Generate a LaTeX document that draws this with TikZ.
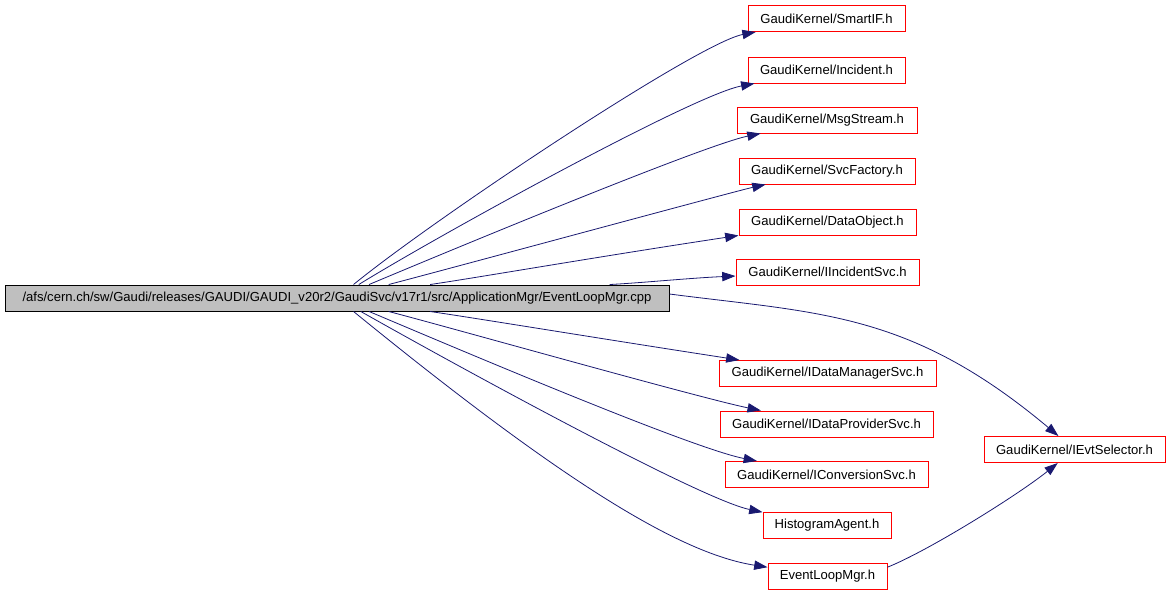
\documentclass[tikz,border=0pt]{standalone}
\usepackage{fontspec}
\setmainfont{Liberation Sans}
\usetikzlibrary{arrows.meta}
\definecolor{edgeblue}{HTML}{191970}
\definecolor{mainfill}{HTML}{BFBFBF}

\begin{document}
\begin{tikzpicture}[
		x=0.75pt, y=-0.75pt,
		every node/.style={rectangle, draw=red, line width=0.75pt, inner sep=0pt,
			minimum height=19.5pt, font=\fontsize{9.8}{12}\selectfont},
		boxw/.style={minimum width=#1*0.75pt},
		dep/.style={draw=edgeblue, line width=0.6pt, -{Triangle[length=10pt, width=7pt]}}
	]
  \useasboundingbox (0,0) rectangle (1170,594);
  % source file
  \node (main) [boxw=664, draw=black, fill=mainfill] at (337,298)
    {/afs/cern.ch/sw/Gaudi/releases/GAUDI/GAUDI\_v20r2/GaudiSvc/v17r1/src/ApplicationMgr/EventLoopMgr.cpp};
  % included headers
  \node (smart_if) [boxw=157] at (826.5,18.5) {GaudiKernel/SmartIF.h};
  \node (incident) [boxw=157] at (826.5,70) {GaudiKernel/Incident.h};
  \node (msg_stream) [boxw=180] at (827,120) {GaudiKernel/MsgStream.h};
  \node (svc_factory) [boxw=176] at (827,171) {GaudiKernel/SvcFactory.h};
  \node (data_object) [boxw=177] at (827.5,222) {GaudiKernel/DataObject.h};
  \node (inc_svc) [boxw=183] at (827.5,272) {GaudiKernel/IIncidentSvc.h};
  \node (dm_svc) [boxw=217] at (827.5,373.5) {GaudiKernel/IDataManagerSvc.h};
  \node (dp_svc) [boxw=213] at (826.5,424) {GaudiKernel/IDataProviderSvc.h};
  \node (conv_svc) [boxw=203] at (826.5,474.5) {GaudiKernel/IConversionSvc.h};
  \node (histo) [boxw=128] at (827,525.5) {HistogramAgent.h};
  \node (elm) [boxw=119] at (827.5,576.5) {EventLoopMgr.h};
  \node (evt_sel) [boxw=181] at (1074.5,449.5) {GaudiKernel/IEvtSelector.h};
  % include edges
  \draw[dep] (main) .. controls (435,218) and (698,43) .. (smart_if);
  \draw[dep] (main) .. controls (434,238) and (693,95) .. (incident);
  \draw[dep] (main) .. controls (444,253) and (704,145) .. (msg_stream);
  \draw[dep] (main) .. controls (452,268) and (736,191) .. (svc_factory);
  \draw[dep] (main) .. controls (475,278) and (596,257) .. (data_object);
  \draw[dep] (main) .. controls (640,283) and (690,278) .. (inc_svc);
  \draw[dep] ([yshift=3pt]main.east) .. controls (820,313.5) and (910,311.5) .. (evt_sel);
  \draw[dep] (main) .. controls (475,318) and (609,340) .. (dm_svc);
  \draw[dep] (main) .. controls (452,328) and (700,398) .. (dp_svc);
  \draw[dep] (main) .. controls (444,343) and (690,448) .. (conv_svc);
  \draw[dep] (main) .. controls (443,358) and (699,499) .. (histo);
  \draw[dep] (main) .. controls (553,474) and (676,553) .. (elm);
  \draw[dep] ([yshift=7pt]elm.east) .. controls (928,551) and (1018,495) .. (evt_sel);
\end{tikzpicture}
\end{document}
